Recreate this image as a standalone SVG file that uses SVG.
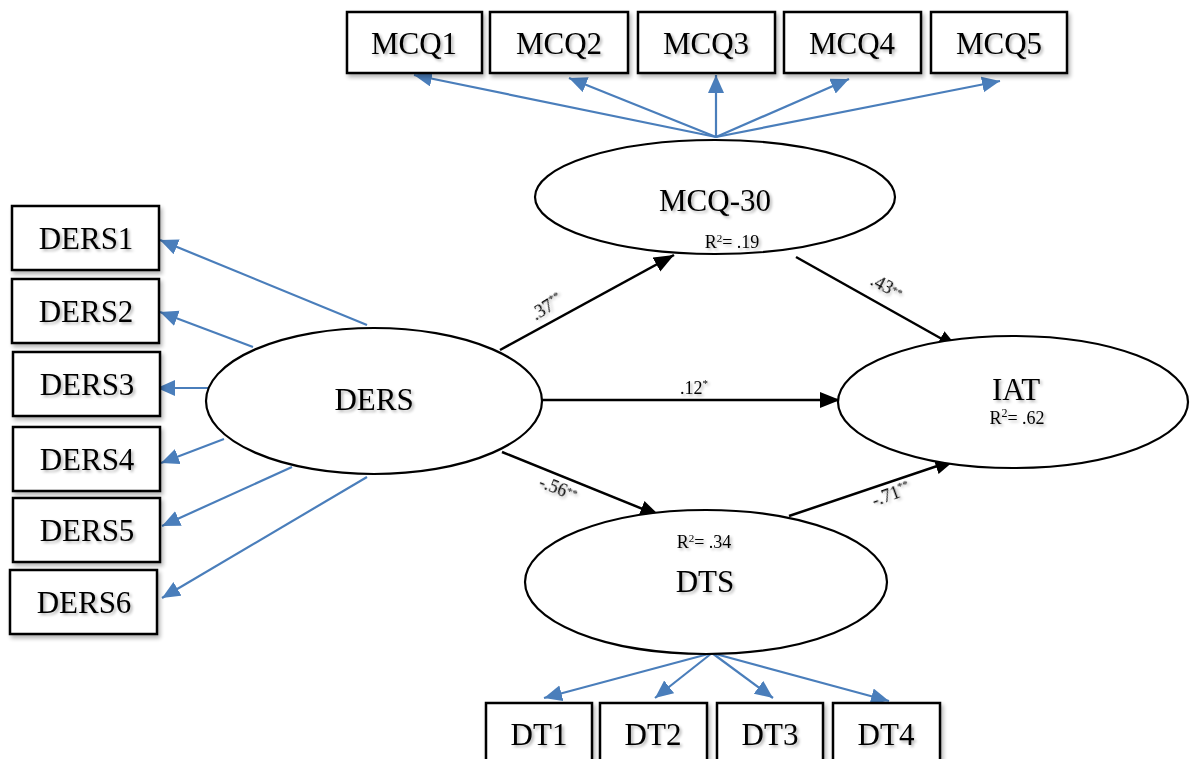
<svg xmlns="http://www.w3.org/2000/svg" width="1192" height="759" viewBox="0 0 1192 759">
<style>
.box{fill:#fff;stroke:#000;stroke-width:2.5;filter:url(#sh)}
.ell{fill:#fff;stroke:#000;stroke-width:2.2}
.t{font-family:"Liberation Serif","Times New Roman",serif;font-size:31px;fill:#000;text-anchor:middle;filter:url(#tsh)}
.r2{font-family:"Liberation Serif","Times New Roman",serif;font-size:18px;fill:#000;text-anchor:middle;filter:url(#tsh)}
.lb{font-family:"Liberation Serif","Times New Roman",serif;font-size:18px;fill:#000;text-anchor:middle;filter:url(#tsh)}
.bl{stroke:#4a7ebb;stroke-width:2.2;fill:none;marker-end:url(#ab)}
.bk{stroke:#000;stroke-width:2.5;fill:none;marker-end:url(#ak)}
</style>
<defs>
<filter id="sh" x="-10%" y="-10%" width="130%" height="130%">
<feGaussianBlur in="SourceAlpha" stdDeviation="2"/>
<feOffset dx="2" dy="3" result="b"/>
<feComponentTransfer><feFuncA type="linear" slope="0.3"/></feComponentTransfer>
<feMerge><feMergeNode/><feMergeNode in="SourceGraphic"/></feMerge>
</filter>
<filter id="tsh" x="-10%" y="-20%" width="130%" height="150%">
<feGaussianBlur in="SourceAlpha" stdDeviation="1.5"/>
<feOffset dx="2" dy="2" result="b"/>
<feComponentTransfer><feFuncA type="linear" slope="0.3"/></feComponentTransfer>
<feMerge><feMergeNode/><feMergeNode in="SourceGraphic"/></feMerge>
</filter>
<marker id="ab" markerUnits="userSpaceOnUse" markerWidth="20" markerHeight="18" refX="18" refY="8" orient="auto">
<path d="M0,0 L18,8 L0,16 z" fill="#4a7ebb"/>
</marker>
<marker id="ak" markerUnits="userSpaceOnUse" markerWidth="22" markerHeight="18" refX="20" refY="8" orient="auto">
<path d="M0,0 L20,8 L0,16 z" fill="#000"/>
</marker>
</defs>
<rect width="1192" height="759" fill="#fff"/>

<g id="connectors">
<line class="bl" x1="716" y1="137" x2="414" y2="75"/>
<line class="bl" x1="716" y1="137" x2="569" y2="78"/>
<line class="bl" x1="716" y1="137" x2="716" y2="75"/>
<line class="bl" x1="716" y1="137" x2="849" y2="79"/>
<line class="bl" x1="716" y1="137" x2="1000" y2="81"/>
<line class="bl" x1="367" y1="325" x2="160" y2="240"/>
<line class="bl" x1="253" y1="347" x2="160" y2="312"/>
<line class="bl" x1="208" y1="388" x2="157" y2="388"/>
<line class="bl" x1="224" y1="439" x2="161" y2="463"/>
<line class="bl" x1="292" y1="467" x2="162" y2="526"/>
<line class="bl" x1="367" y1="477" x2="162" y2="598"/>
<line class="bl" x1="712" y1="653" x2="544" y2="698"/>
<line class="bl" x1="712" y1="653" x2="655" y2="698"/>
<line class="bl" x1="712" y1="653" x2="773" y2="698"/>
<line class="bl" x1="712" y1="653" x2="889" y2="701"/>
<line class="bk" x1="500" y1="350" x2="674" y2="255"/>
<line class="bk" x1="796" y1="257" x2="958" y2="348"/>
<line class="bk" x1="541" y1="400" x2="840" y2="400"/>
<line class="bk" x1="502" y1="452" x2="660" y2="516"/>
<line class="bk" x1="789" y1="516" x2="955" y2="460"/>
<text class="lb" transform="translate(550,312) rotate(-32)">.37<tspan font-size="11" dy="-7">**</tspan></text>
<text class="lb" transform="translate(884,292) rotate(28)">.43<tspan font-size="11" dy="-3">**</tspan></text>
<text class="lb" x="694" y="394">.12<tspan font-size="11" dy="-7">*</tspan></text>
<text class="lb" transform="translate(556,494) rotate(22)">-.56<tspan font-size="11" dy="-4">**</tspan></text>
<text class="lb" transform="translate(893,500) rotate(-20)">-.71<tspan font-size="11" dy="-7">**</tspan></text>
</g>

<g id="MCQ1"><rect class="box" x="347" y="12" width="135" height="61"/><text class="t" x="414" y="54">MCQ1</text></g>
<g id="MCQ2"><rect class="box" x="490" y="12" width="138" height="61"/><text class="t" x="559" y="54">MCQ2</text></g>
<g id="MCQ3"><rect class="box" x="638" y="12" width="137" height="61"/><text class="t" x="706" y="54">MCQ3</text></g>
<g id="MCQ4"><rect class="box" x="784" y="12" width="137" height="61"/><text class="t" x="852" y="54">MCQ4</text></g>
<g id="MCQ5"><rect class="box" x="931" y="12" width="136" height="61"/><text class="t" x="999" y="54">MCQ5</text></g>

<g id="DERS1"><rect class="box" x="12" y="206" width="147" height="64"/><text class="t" x="86" y="249">DERS1</text></g>
<g id="DERS2"><rect class="box" x="12" y="279" width="147" height="64"/><text class="t" x="86" y="322">DERS2</text></g>
<g id="DERS3"><rect class="box" x="13" y="352" width="147" height="64"/><text class="t" x="87" y="395">DERS3</text></g>
<g id="DERS4"><rect class="box" x="13" y="427" width="147" height="64"/><text class="t" x="87" y="470">DERS4</text></g>
<g id="DERS5"><rect class="box" x="13" y="498" width="147" height="64"/><text class="t" x="87" y="541">DERS5</text></g>
<g id="DERS6"><rect class="box" x="10" y="570" width="147" height="64"/><text class="t" x="84" y="613">DERS6</text></g>

<g id="DT1"><rect class="box" x="486" y="703" width="106" height="70"/><text class="t" x="539" y="745">DT1</text></g>
<g id="DT2"><rect class="box" x="600" y="703" width="107" height="70"/><text class="t" x="653" y="745">DT2</text></g>
<g id="DT3"><rect class="box" x="717" y="703" width="106" height="70"/><text class="t" x="770" y="745">DT3</text></g>
<g id="DT4"><rect class="box" x="833" y="703" width="107" height="70"/><text class="t" x="886" y="745">DT4</text></g>

<g id="MCQ-30"><ellipse class="ell" cx="715" cy="197" rx="180" ry="57"/><text class="t" x="715" y="211">MCQ-30</text><text class="r2" x="732" y="248">R<tspan font-size="11" dy="-6">2</tspan><tspan dy="6">= .19</tspan></text></g>
<g id="DERS"><ellipse class="ell" cx="374" cy="401" rx="168" ry="73"/><text class="t" x="374" y="410">DERS</text></g>
<g id="IAT"><ellipse class="ell" cx="1013" cy="402" rx="175" ry="66"/><text class="t" x="1016" y="400">IAT</text><text class="r2" x="1017" y="424" font-size="19">R<tspan font-size="12" dy="-7">2</tspan><tspan dy="7">= .62</tspan></text></g>
<g id="DTS"><ellipse class="ell" cx="706" cy="582" rx="181" ry="72"/><text class="t" x="705" y="592">DTS</text><text class="r2" x="704" y="548">R<tspan font-size="11" dy="-6">2</tspan><tspan dy="6">= .34</tspan></text></g>
</svg>
